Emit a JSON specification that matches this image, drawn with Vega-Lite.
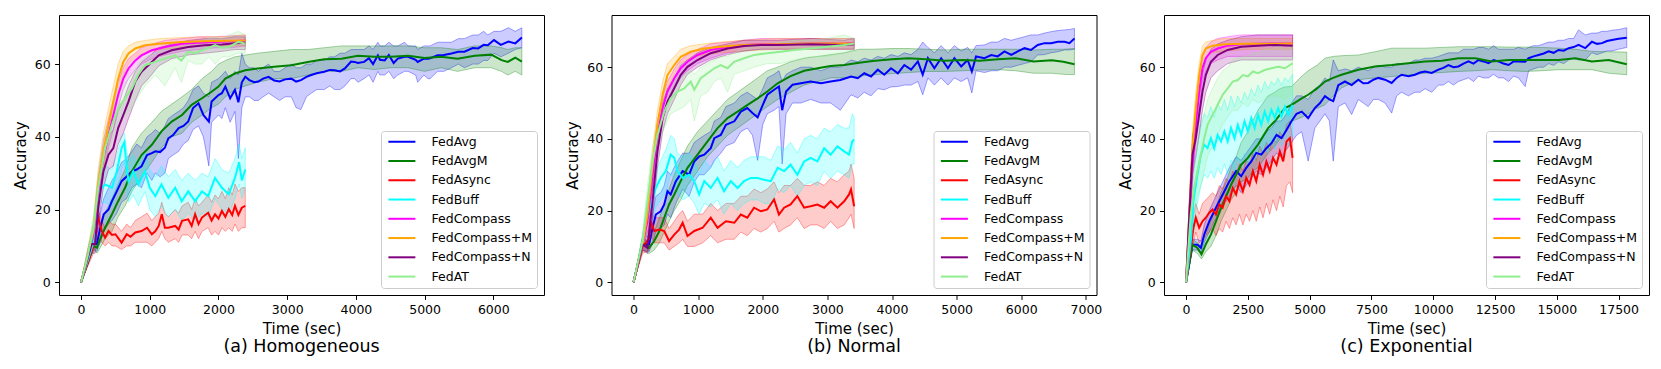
{
"$schema":"https://vega.github.io/schema/vega-lite/v6.json",
"background":"white",
"padding":{"left":12,"top":14,"right":5,"bottom":5},
"bounds":"flush",
"spacing":67.5,
"config":{
 "font":"DejaVu Sans",
 "view":{"stroke":"black","strokeWidth":1},
 "axis":{"labelFont":"DejaVu Sans","labelFontSize":12.5,"labelColor":"black","titleFont":"DejaVu Sans","titleFontSize":15,"titleFontWeight":"normal","titleColor":"black","tickColor":"black","tickSize":4.4,"tickWidth":1,"domain":false,"grid":false,"labelPadding":4.5},
 "axisX":{"titlePadding":5},
 "axisY":{"titlePadding":6},
 "legend":{"padding":4.5,"rowPadding":6.26,"symbolType":"M-1,0H7","symbolSize":45.6,"symbolStrokeWidth":2,"labelOffset":33.5,"labelFontSize":12.5,"labelFont":"DejaVu Sans","labelColor":"black","fillColor":"rgba(255,255,255,0.8)","strokeColor":"#cccccc","cornerRadius":3},
 "title":{"font":"DejaVu Sans","fontSize":17.5,"fontWeight":"normal","color":"black","orient":"bottom","offset":2}
},
"resolve":{"scale":{"color":"independent"},"legend":{"color":"independent"}},
"datasets":{
"a":[
{"s":"FedAvg","t":0,"y":0,"l":0,"h":0},{"s":"FedAvg","t":180,"y":10.5,"l":9,"h":12},{"s":"FedAvg","t":230,"y":10.5,"l":8.5,"h":14},{"s":"FedAvg","t":280,"y":15,"l":11,"h":19},{"s":"FedAvg","t":330,"y":18.7,"l":14,"h":23},{"s":"FedAvg","t":400,"y":20,"l":16,"h":26},{"s":"FedAvg","t":450,"y":22.3,"l":17,"h":28},{"s":"FedAvg","t":520,"y":25,"l":19,"h":30},{"s":"FedAvg","t":590,"y":27.8,"l":22,"h":33},{"s":"FedAvg","t":660,"y":29,"l":23,"h":34},{"s":"FedAvg","t":740,"y":30.5,"l":26,"h":36},{"s":"FedAvg","t":810,"y":31,"l":27,"h":38},{"s":"FedAvg","t":880,"y":31.9,"l":26,"h":37},{"s":"FedAvg","t":960,"y":35,"l":30,"h":40},{"s":"FedAvg","t":1030,"y":35.5,"l":28,"h":41},{"s":"FedAvg","t":1080,"y":36,"l":30,"h":42},{"s":"FedAvg","t":1150,"y":35.8,"l":29,"h":41},{"s":"FedAvg","t":1220,"y":37,"l":30,"h":43},{"s":"FedAvg","t":1270,"y":39.6,"l":34,"h":45},{"s":"FedAvg","t":1340,"y":40.5,"l":35,"h":46},{"s":"FedAvg","t":1420,"y":42.4,"l":36,"h":47},{"s":"FedAvg","t":1490,"y":43,"l":38,"h":48},{"s":"FedAvg","t":1560,"y":44.2,"l":39,"h":50},{"s":"FedAvg","t":1630,"y":47.9,"l":42,"h":53},{"s":"FedAvg","t":1710,"y":49.2,"l":43,"h":54},{"s":"FedAvg","t":1780,"y":46,"l":40,"h":52},{"s":"FedAvg","t":1860,"y":44.2,"l":32,"h":51},{"s":"FedAvg","t":1900,"y":49.7,"l":44,"h":55},{"s":"FedAvg","t":2000,"y":51.5,"l":46,"h":56},{"s":"FedAvg","t":2050,"y":52,"l":45,"h":57},{"s":"FedAvg","t":2100,"y":53.8,"l":48,"h":58},{"s":"FedAvg","t":2170,"y":50.6,"l":44,"h":56},{"s":"FedAvg","t":2240,"y":52.9,"l":47,"h":58},{"s":"FedAvg","t":2290,"y":49.5,"l":34,"h":57},{"s":"FedAvg","t":2340,"y":55,"l":48,"h":63},{"s":"FedAvg","t":2390,"y":56.5,"l":51,"h":60},{"s":"FedAvg","t":2450,"y":55.6,"l":51,"h":59},{"s":"FedAvg","t":2520,"y":55,"l":50,"h":59},{"s":"FedAvg","t":2580,"y":55.2,"l":50,"h":58},{"s":"FedAvg","t":2650,"y":56,"l":51,"h":59},{"s":"FedAvg","t":2730,"y":56.5,"l":52,"h":60},{"s":"FedAvg","t":2810,"y":55.5,"l":51,"h":58},{"s":"FedAvg","t":2890,"y":55.2,"l":50,"h":58},{"s":"FedAvg","t":2970,"y":55.8,"l":51,"h":59},{"s":"FedAvg","t":3060,"y":56,"l":51,"h":60},{"s":"FedAvg","t":3130,"y":55.2,"l":48,"h":59},{"s":"FedAvg","t":3200,"y":55.6,"l":47.5,"h":59},{"s":"FedAvg","t":3280,"y":56.5,"l":51,"h":60},{"s":"FedAvg","t":3350,"y":57,"l":52,"h":60},{"s":"FedAvg","t":3430,"y":57.5,"l":53,"h":61},{"s":"FedAvg","t":3540,"y":57.9,"l":53,"h":61},{"s":"FedAvg","t":3620,"y":58.4,"l":54,"h":62},{"s":"FedAvg","t":3690,"y":58.3,"l":53,"h":62},{"s":"FedAvg","t":3770,"y":58,"l":53,"h":63},{"s":"FedAvg","t":3840,"y":58.8,"l":54,"h":63},{"s":"FedAvg","t":3930,"y":60.7,"l":56,"h":64},{"s":"FedAvg","t":3980,"y":60.6,"l":56,"h":64},{"s":"FedAvg","t":4030,"y":60.3,"l":55,"h":64},{"s":"FedAvg","t":4120,"y":60.6,"l":56,"h":64},{"s":"FedAvg","t":4190,"y":61.6,"l":57,"h":65},{"s":"FedAvg","t":4250,"y":60,"l":55,"h":64},{"s":"FedAvg","t":4320,"y":62.4,"l":58,"h":66},{"s":"FedAvg","t":4350,"y":61.2,"l":57,"h":65},{"s":"FedAvg","t":4420,"y":61,"l":57,"h":65},{"s":"FedAvg","t":4480,"y":62.5,"l":58,"h":66},{"s":"FedAvg","t":4550,"y":60.3,"l":56,"h":65},{"s":"FedAvg","t":4610,"y":61.5,"l":57,"h":65},{"s":"FedAvg","t":4710,"y":62,"l":58,"h":66},{"s":"FedAvg","t":4760,"y":62,"l":58,"h":65},{"s":"FedAvg","t":4870,"y":61.2,"l":57,"h":65},{"s":"FedAvg","t":4900,"y":60.6,"l":55,"h":64},{"s":"FedAvg","t":4990,"y":61.5,"l":57,"h":65},{"s":"FedAvg","t":5050,"y":61.5,"l":56,"h":65},{"s":"FedAvg","t":5080,"y":61.6,"l":56,"h":65},{"s":"FedAvg","t":5190,"y":62.4,"l":58,"h":66},{"s":"FedAvg","t":5280,"y":62.5,"l":58,"h":66},{"s":"FedAvg","t":5390,"y":62.9,"l":59,"h":66},{"s":"FedAvg","t":5490,"y":63.4,"l":60,"h":67},{"s":"FedAvg","t":5580,"y":63.4,"l":59,"h":67},{"s":"FedAvg","t":5700,"y":64.4,"l":60,"h":68},{"s":"FedAvg","t":5780,"y":64.3,"l":60,"h":68},{"s":"FedAvg","t":5860,"y":65.3,"l":61,"h":69},{"s":"FedAvg","t":5920,"y":65.2,"l":61,"h":68},{"s":"FedAvg","t":6010,"y":66.6,"l":63,"h":69},{"s":"FedAvg","t":6110,"y":65.3,"l":62,"h":69},{"s":"FedAvg","t":6220,"y":66.2,"l":63,"h":70},{"s":"FedAvg","t":6320,"y":65.7,"l":64,"h":69},{"s":"FedAvg","t":6416,"y":67.3,"l":64.5,"h":70},
{"s":"FedAvgM","t":0,"y":0,"l":0,"h":0},{"s":"FedAvgM","t":180,"y":10,"l":9,"h":11},{"s":"FedAvgM","t":230,"y":9.5,"l":8,"h":12},{"s":"FedAvgM","t":280,"y":12,"l":9.5,"h":15},{"s":"FedAvgM","t":350,"y":15,"l":12,"h":19},{"s":"FedAvgM","t":450,"y":18.7,"l":14,"h":23},{"s":"FedAvgM","t":540,"y":22.3,"l":18,"h":27},{"s":"FedAvgM","t":640,"y":26,"l":21,"h":31},{"s":"FedAvgM","t":740,"y":30.5,"l":25,"h":37},{"s":"FedAvgM","t":880,"y":35,"l":29,"h":41},{"s":"FedAvgM","t":1030,"y":37.8,"l":33,"h":44},{"s":"FedAvgM","t":1170,"y":41.5,"l":37,"h":47},{"s":"FedAvgM","t":1320,"y":44.2,"l":40,"h":49},{"s":"FedAvgM","t":1470,"y":46,"l":41,"h":51},{"s":"FedAvgM","t":1610,"y":48.8,"l":44,"h":53},{"s":"FedAvgM","t":1760,"y":50.6,"l":46,"h":56},{"s":"FedAvgM","t":1900,"y":52.4,"l":48,"h":58},{"s":"FedAvgM","t":2000,"y":53.8,"l":49,"h":60},{"s":"FedAvgM","t":2100,"y":56,"l":51,"h":61},{"s":"FedAvgM","t":2240,"y":57.4,"l":53,"h":62},{"s":"FedAvgM","t":2390,"y":58.3,"l":54,"h":62.5},{"s":"FedAvgM","t":2570,"y":58.8,"l":55,"h":63},{"s":"FedAvgM","t":2810,"y":59.3,"l":56,"h":63.5},{"s":"FedAvgM","t":3060,"y":59.7,"l":56,"h":64},{"s":"FedAvgM","t":3300,"y":60.6,"l":57,"h":64},{"s":"FedAvgM","t":3540,"y":61.3,"l":58,"h":64.5},{"s":"FedAvgM","t":3790,"y":61.5,"l":58,"h":65},{"s":"FedAvgM","t":4030,"y":62.3,"l":59,"h":65},{"s":"FedAvgM","t":4270,"y":62,"l":58.5,"h":65},{"s":"FedAvgM","t":4510,"y":62,"l":59,"h":65},{"s":"FedAvgM","t":4760,"y":62.3,"l":59,"h":65},{"s":"FedAvgM","t":5000,"y":61.7,"l":58,"h":64.5},{"s":"FedAvgM","t":5240,"y":62,"l":59,"h":64.5},{"s":"FedAvgM","t":5480,"y":61.5,"l":58,"h":64},{"s":"FedAvgM","t":5730,"y":62.3,"l":59,"h":65},{"s":"FedAvgM","t":5970,"y":62.6,"l":59,"h":65},{"s":"FedAvgM","t":6120,"y":61.1,"l":58,"h":64.5},{"s":"FedAvgM","t":6210,"y":60.6,"l":57,"h":64},{"s":"FedAvgM","t":6320,"y":61.8,"l":58,"h":64.5},{"s":"FedAvgM","t":6416,"y":60.7,"l":57,"h":64.5},
{"s":"FedAsync","t":0,"y":0,"l":0,"h":0},{"s":"FedAsync","t":180,"y":10,"l":8,"h":12},{"s":"FedAsync","t":230,"y":16.4,"l":13,"h":19},{"s":"FedAsync","t":250,"y":17.8,"l":15,"h":20},{"s":"FedAsync","t":300,"y":14.1,"l":11,"h":17},{"s":"FedAsync","t":350,"y":12.3,"l":10,"h":15},{"s":"FedAsync","t":400,"y":14.1,"l":11,"h":17},{"s":"FedAsync","t":450,"y":13,"l":10,"h":16},{"s":"FedAsync","t":500,"y":13.2,"l":10,"h":16},{"s":"FedAsync","t":590,"y":10.9,"l":9,"h":14},{"s":"FedAsync","t":665,"y":13.2,"l":10,"h":16},{"s":"FedAsync","t":720,"y":12.5,"l":10,"h":15},{"s":"FedAsync","t":790,"y":13.7,"l":11,"h":17},{"s":"FedAsync","t":880,"y":14.1,"l":11,"h":18},{"s":"FedAsync","t":960,"y":15,"l":11,"h":19},{"s":"FedAsync","t":1030,"y":13.2,"l":10,"h":17},{"s":"FedAsync","t":1080,"y":14,"l":11,"h":18},{"s":"FedAsync","t":1130,"y":15.5,"l":12,"h":19},{"s":"FedAsync","t":1175,"y":18.7,"l":14,"h":22},{"s":"FedAsync","t":1220,"y":15,"l":12,"h":19},{"s":"FedAsync","t":1270,"y":15,"l":11,"h":18},{"s":"FedAsync","t":1370,"y":15.5,"l":12,"h":20},{"s":"FedAsync","t":1420,"y":14.5,"l":11,"h":19},{"s":"FedAsync","t":1470,"y":16.9,"l":13,"h":21},{"s":"FedAsync","t":1560,"y":17.3,"l":13,"h":22},{"s":"FedAsync","t":1610,"y":15.5,"l":12,"h":20},{"s":"FedAsync","t":1660,"y":18.7,"l":14,"h":23},{"s":"FedAsync","t":1710,"y":16,"l":12,"h":21},{"s":"FedAsync","t":1760,"y":17.8,"l":14,"h":22},{"s":"FedAsync","t":1850,"y":19.1,"l":15,"h":24},{"s":"FedAsync","t":1900,"y":17,"l":13,"h":22},{"s":"FedAsync","t":1950,"y":18.7,"l":14,"h":24},{"s":"FedAsync","t":2000,"y":17.5,"l":13,"h":23},{"s":"FedAsync","t":2050,"y":19.6,"l":15,"h":25},{"s":"FedAsync","t":2100,"y":18,"l":14,"h":23},{"s":"FedAsync","t":2150,"y":20.1,"l":15,"h":26},{"s":"FedAsync","t":2200,"y":18.5,"l":14,"h":24},{"s":"FedAsync","t":2240,"y":21,"l":16,"h":27},{"s":"FedAsync","t":2290,"y":18.5,"l":14,"h":25},{"s":"FedAsync","t":2340,"y":20.5,"l":15,"h":26},{"s":"FedAsync","t":2390,"y":21,"l":15,"h":26},
{"s":"FedBuff","t":0,"y":0,"l":0,"h":0},{"s":"FedBuff","t":180,"y":11,"l":9,"h":13},{"s":"FedBuff","t":230,"y":20,"l":16,"h":24},{"s":"FedBuff","t":280,"y":25.5,"l":22,"h":30},{"s":"FedBuff","t":350,"y":26.9,"l":22,"h":32},{"s":"FedBuff","t":450,"y":26,"l":21,"h":31},{"s":"FedBuff","t":520,"y":30.5,"l":25,"h":35},{"s":"FedBuff","t":590,"y":36.9,"l":31,"h":40},{"s":"FedBuff","t":630,"y":38.5,"l":33,"h":41},{"s":"FedBuff","t":660,"y":32.4,"l":27,"h":37},{"s":"FedBuff","t":690,"y":27.8,"l":22,"h":33},{"s":"FedBuff","t":760,"y":30.5,"l":24,"h":35},{"s":"FedBuff","t":835,"y":26.9,"l":21,"h":32},{"s":"FedBuff","t":930,"y":30.5,"l":25,"h":36},{"s":"FedBuff","t":1000,"y":26,"l":20,"h":31},{"s":"FedBuff","t":1080,"y":23.7,"l":18,"h":29},{"s":"FedBuff","t":1170,"y":26.9,"l":21,"h":32},{"s":"FedBuff","t":1270,"y":23.2,"l":18,"h":29},{"s":"FedBuff","t":1370,"y":26,"l":20,"h":31},{"s":"FedBuff","t":1465,"y":22.3,"l":17,"h":28},{"s":"FedBuff","t":1560,"y":25,"l":19,"h":30},{"s":"FedBuff","t":1660,"y":22.3,"l":17,"h":28},{"s":"FedBuff","t":1760,"y":25,"l":19,"h":30},{"s":"FedBuff","t":1850,"y":23.7,"l":18,"h":29},{"s":"FedBuff","t":1950,"y":28.7,"l":23,"h":34},{"s":"FedBuff","t":2050,"y":26,"l":20,"h":31},{"s":"FedBuff","t":2150,"y":24.2,"l":19,"h":30},{"s":"FedBuff","t":2240,"y":28.7,"l":23,"h":34},{"s":"FedBuff","t":2300,"y":33,"l":27,"h":38},{"s":"FedBuff","t":2340,"y":28,"l":23,"h":34},{"s":"FedBuff","t":2390,"y":31,"l":26,"h":37},
{"s":"FedCompass","t":0,"y":0,"l":0,"h":0},{"s":"FedCompass","t":100,"y":7,"l":5,"h":9},{"s":"FedCompass","t":180,"y":13.2,"l":11,"h":16},{"s":"FedCompass","t":250,"y":25,"l":21,"h":29},{"s":"FedCompass","t":325,"y":34.2,"l":30,"h":39},{"s":"FedCompass","t":400,"y":40.6,"l":37,"h":45},{"s":"FedCompass","t":470,"y":46,"l":42,"h":50},{"s":"FedCompass","t":540,"y":51.5,"l":48,"h":55},{"s":"FedCompass","t":615,"y":56,"l":53,"h":59},{"s":"FedCompass","t":690,"y":58.8,"l":56,"h":61.5},{"s":"FedCompass","t":790,"y":61,"l":58.5,"h":63},{"s":"FedCompass","t":880,"y":62.4,"l":60,"h":64.5},{"s":"FedCompass","t":1030,"y":63.8,"l":61.5,"h":65.5},{"s":"FedCompass","t":1220,"y":64.7,"l":62.5,"h":66.5},{"s":"FedCompass","t":1460,"y":65.6,"l":63.5,"h":67},{"s":"FedCompass","t":1710,"y":65.9,"l":64,"h":67.5},{"s":"FedCompass","t":1950,"y":66.1,"l":64.5,"h":67.5},{"s":"FedCompass","t":2190,"y":66.3,"l":64.5,"h":67.8},{"s":"FedCompass","t":2390,"y":66.5,"l":65,"h":68},
{"s":"FedCompass+M","t":0,"y":0,"l":0,"h":0},{"s":"FedCompass+M","t":100,"y":7.5,"l":5.5,"h":9.5},{"s":"FedCompass+M","t":180,"y":14,"l":12,"h":17},{"s":"FedCompass+M","t":250,"y":26.9,"l":23,"h":31},{"s":"FedCompass+M","t":325,"y":36,"l":31,"h":41},{"s":"FedCompass+M","t":400,"y":43.3,"l":39,"h":48},{"s":"FedCompass+M","t":470,"y":49.7,"l":45,"h":54},{"s":"FedCompass+M","t":540,"y":56,"l":52,"h":60},{"s":"FedCompass+M","t":615,"y":60.6,"l":57,"h":63.5},{"s":"FedCompass+M","t":690,"y":62.9,"l":60,"h":65},{"s":"FedCompass+M","t":790,"y":64.3,"l":62,"h":66},{"s":"FedCompass+M","t":930,"y":65.2,"l":63,"h":66.5},{"s":"FedCompass+M","t":1130,"y":65.6,"l":64,"h":67},{"s":"FedCompass+M","t":1460,"y":66.1,"l":64.5,"h":67.3},{"s":"FedCompass+M","t":1800,"y":66.3,"l":65,"h":67.5},{"s":"FedCompass+M","t":2150,"y":66.4,"l":65,"h":67.6},{"s":"FedCompass+M","t":2390,"y":66.5,"l":65,"h":68},
{"s":"FedCompass+N","t":0,"y":0,"l":0,"h":0},{"s":"FedCompass+N","t":100,"y":7,"l":5,"h":9},{"s":"FedCompass+N","t":155,"y":10.5,"l":8,"h":13},{"s":"FedCompass+N","t":205,"y":10.5,"l":8,"h":14},{"s":"FedCompass+N","t":250,"y":20.5,"l":16,"h":25},{"s":"FedCompass+N","t":325,"y":30.5,"l":26,"h":35},{"s":"FedCompass+N","t":400,"y":35.1,"l":31,"h":40},{"s":"FedCompass+N","t":470,"y":36.9,"l":32,"h":42},{"s":"FedCompass+N","t":540,"y":42.4,"l":38,"h":47},{"s":"FedCompass+N","t":615,"y":46,"l":41,"h":50},{"s":"FedCompass+N","t":690,"y":49.7,"l":45,"h":54},{"s":"FedCompass+N","t":790,"y":55.2,"l":50,"h":58},{"s":"FedCompass+N","t":880,"y":57.9,"l":54,"h":60.5},{"s":"FedCompass+N","t":980,"y":59.7,"l":56,"h":62},{"s":"FedCompass+N","t":1130,"y":62.4,"l":59.5,"h":64.5},{"s":"FedCompass+N","t":1320,"y":63.8,"l":61.5,"h":65.5},{"s":"FedCompass+N","t":1560,"y":64.7,"l":62.5,"h":66.5},{"s":"FedCompass+N","t":1800,"y":65.2,"l":63,"h":67},{"s":"FedCompass+N","t":2050,"y":65.4,"l":63.5,"h":67},{"s":"FedCompass+N","t":2240,"y":65.7,"l":64,"h":67.5},{"s":"FedCompass+N","t":2390,"y":65.9,"l":64,"h":67.5},
{"s":"FedAT","t":0,"y":0,"l":0,"h":0},{"s":"FedAT","t":100,"y":7.5,"l":5.5,"h":9.5},{"s":"FedAT","t":180,"y":15,"l":12,"h":18},{"s":"FedAT","t":250,"y":26,"l":22,"h":30},{"s":"FedAT","t":350,"y":36.9,"l":32,"h":41},{"s":"FedAT","t":450,"y":43.3,"l":39,"h":47},{"s":"FedAT","t":540,"y":47.9,"l":44,"h":52},{"s":"FedAT","t":640,"y":50.6,"l":46,"h":55},{"s":"FedAT","t":740,"y":53.3,"l":48,"h":57},{"s":"FedAT","t":830,"y":57,"l":51,"h":60},{"s":"FedAT","t":930,"y":59.7,"l":54,"h":62},{"s":"FedAT","t":1080,"y":60.6,"l":57,"h":63},{"s":"FedAT","t":1220,"y":61.5,"l":54,"h":64},{"s":"FedAT","t":1370,"y":62.4,"l":59,"h":65},{"s":"FedAT","t":1460,"y":61,"l":55,"h":64},{"s":"FedAT","t":1560,"y":63.4,"l":61,"h":66},{"s":"FedAT","t":1660,"y":63,"l":60,"h":66},{"s":"FedAT","t":1760,"y":63.8,"l":60,"h":66.5},{"s":"FedAT","t":1860,"y":64.5,"l":62,"h":67},{"s":"FedAT","t":1950,"y":65.2,"l":60,"h":67.5},{"s":"FedAT","t":2050,"y":64.5,"l":62,"h":67},{"s":"FedAT","t":2150,"y":64.7,"l":62,"h":68},{"s":"FedAT","t":2290,"y":66.1,"l":63,"h":69},{"s":"FedAT","t":2390,"y":65.6,"l":63,"h":68}
],
"b":[
{"s":"FedAvg","t":0,"y":0,"l":0,"h":0},{"s":"FedAvg","t":140,"y":10.6,"l":9,"h":12.5},{"s":"FedAvg","t":240,"y":10.6,"l":8.5,"h":13},{"s":"FedAvg","t":295,"y":15.2,"l":11,"h":19},{"s":"FedAvg","t":345,"y":18.9,"l":14,"h":24},{"s":"FedAvg","t":420,"y":19.8,"l":15,"h":25},{"s":"FedAvg","t":475,"y":21.7,"l":16,"h":27},{"s":"FedAvg","t":525,"y":25.4,"l":19,"h":31},{"s":"FedAvg","t":575,"y":24.5,"l":18,"h":30},{"s":"FedAvg","t":655,"y":28.2,"l":22,"h":33},{"s":"FedAvg","t":760,"y":31,"l":26,"h":36},{"s":"FedAvg","t":860,"y":30,"l":24,"h":36},{"s":"FedAvg","t":940,"y":33.7,"l":28,"h":39},{"s":"FedAvg","t":1015,"y":35.1,"l":30,"h":40},{"s":"FedAvg","t":1095,"y":35.6,"l":30,"h":41},{"s":"FedAvg","t":1195,"y":37.4,"l":32,"h":42},{"s":"FedAvg","t":1250,"y":40.2,"l":34,"h":45},{"s":"FedAvg","t":1350,"y":41.1,"l":36,"h":46},{"s":"FedAvg","t":1430,"y":43.9,"l":38,"h":49},{"s":"FedAvg","t":1560,"y":44.9,"l":39,"h":50},{"s":"FedAvg","t":1660,"y":47.6,"l":42,"h":52},{"s":"FedAvg","t":1760,"y":48.6,"l":43,"h":53},{"s":"FedAvg","t":1840,"y":47.2,"l":41,"h":52},{"s":"FedAvg","t":1920,"y":46,"l":34,"h":51},{"s":"FedAvg","t":2000,"y":49.5,"l":44,"h":54},{"s":"FedAvg","t":2070,"y":52.3,"l":47,"h":57},{"s":"FedAvg","t":2175,"y":53.7,"l":48,"h":58},{"s":"FedAvg","t":2250,"y":54.6,"l":49,"h":59},{"s":"FedAvg","t":2300,"y":48,"l":33,"h":56},{"s":"FedAvg","t":2360,"y":53.2,"l":47,"h":58},{"s":"FedAvg","t":2460,"y":55.1,"l":50,"h":59},{"s":"FedAvg","t":2590,"y":55.5,"l":50,"h":60},{"s":"FedAvg","t":2740,"y":56,"l":51,"h":60},{"s":"FedAvg","t":2900,"y":55.5,"l":50,"h":59},{"s":"FedAvg","t":3050,"y":56,"l":50,"h":60},{"s":"FedAvg","t":3200,"y":56.4,"l":48,"h":60},{"s":"FedAvg","t":3366,"y":57.4,"l":52.3,"h":62},{"s":"FedAvg","t":3470,"y":56.9,"l":51.4,"h":61.5},{"s":"FedAvg","t":3570,"y":58.3,"l":53,"h":62.5},{"s":"FedAvg","t":3675,"y":57.4,"l":52,"h":62},{"s":"FedAvg","t":3780,"y":59.3,"l":54,"h":63},{"s":"FedAvg","t":3880,"y":57.9,"l":53.7,"h":62.5},{"s":"FedAvg","t":3985,"y":59.7,"l":54.5,"h":63.5},{"s":"FedAvg","t":4090,"y":58.3,"l":54.6,"h":63},{"s":"FedAvg","t":4190,"y":60.6,"l":55,"h":64},{"s":"FedAvg","t":4295,"y":59.3,"l":55,"h":63.5},{"s":"FedAvg","t":4400,"y":61.6,"l":56,"h":65},{"s":"FedAvg","t":4475,"y":57.9,"l":52.3,"h":67},{"s":"FedAvg","t":4555,"y":62.5,"l":57,"h":65.5},{"s":"FedAvg","t":4655,"y":59.7,"l":55,"h":64},{"s":"FedAvg","t":4760,"y":62.5,"l":57,"h":66},{"s":"FedAvg","t":4865,"y":59.7,"l":55,"h":64},{"s":"FedAvg","t":4965,"y":62.5,"l":57,"h":66},{"s":"FedAvg","t":5070,"y":60.2,"l":56,"h":64.5},{"s":"FedAvg","t":5170,"y":62,"l":57,"h":65.5},{"s":"FedAvg","t":5235,"y":58.8,"l":52.8,"h":64},{"s":"FedAvg","t":5300,"y":63,"l":59,"h":66},{"s":"FedAvg","t":5430,"y":62.5,"l":58.5,"h":66.2},{"s":"FedAvg","t":5535,"y":63.4,"l":59,"h":67},{"s":"FedAvg","t":5635,"y":63,"l":59,"h":67},{"s":"FedAvg","t":5740,"y":64.4,"l":60,"h":68},{"s":"FedAvg","t":5845,"y":63.4,"l":60,"h":67.5},{"s":"FedAvg","t":5945,"y":64.4,"l":60.5,"h":68},{"s":"FedAvg","t":6050,"y":65.3,"l":61,"h":68.5},{"s":"FedAvg","t":6150,"y":64.8,"l":61.5,"h":69},{"s":"FedAvg","t":6255,"y":66.2,"l":63.4,"h":69},{"s":"FedAvg","t":6360,"y":66.7,"l":63.5,"h":69.5},{"s":"FedAvg","t":6460,"y":66.7,"l":64,"h":69.9},{"s":"FedAvg","t":6565,"y":67.1,"l":64.3,"h":70.2},{"s":"FedAvg","t":6670,"y":67.1,"l":64.8,"h":70.4},{"s":"FedAvg","t":6745,"y":66.7,"l":64.8,"h":70.5},{"s":"FedAvg","t":6823,"y":68,"l":65,"h":70.8},
{"s":"FedAvgM","t":0,"y":0,"l":0,"h":0},{"s":"FedAvgM","t":140,"y":10.6,"l":9,"h":12},{"s":"FedAvgM","t":240,"y":9.6,"l":8,"h":11.5},{"s":"FedAvgM","t":320,"y":11.5,"l":9,"h":14},{"s":"FedAvgM","t":400,"y":14.3,"l":11,"h":18},{"s":"FedAvgM","t":475,"y":18,"l":14,"h":22},{"s":"FedAvgM","t":550,"y":21.7,"l":17,"h":26},{"s":"FedAvgM","t":630,"y":24.5,"l":20,"h":30},{"s":"FedAvgM","t":730,"y":28.2,"l":23,"h":34},{"s":"FedAvgM","t":835,"y":31.9,"l":27,"h":38},{"s":"FedAvgM","t":990,"y":35.6,"l":31,"h":42},{"s":"FedAvgM","t":1145,"y":39.3,"l":35,"h":45},{"s":"FedAvgM","t":1300,"y":43,"l":38,"h":48},{"s":"FedAvgM","t":1455,"y":45.8,"l":41,"h":51},{"s":"FedAvgM","t":1610,"y":47.6,"l":43,"h":53},{"s":"FedAvgM","t":1765,"y":49.5,"l":45,"h":55},{"s":"FedAvgM","t":1920,"y":51.3,"l":47,"h":57},{"s":"FedAvgM","t":2070,"y":53.2,"l":49,"h":59},{"s":"FedAvgM","t":2230,"y":55.5,"l":51,"h":60},{"s":"FedAvgM","t":2430,"y":57.5,"l":53,"h":61.5},{"s":"FedAvgM","t":2640,"y":59,"l":55,"h":62.5},{"s":"FedAvgM","t":2850,"y":59.7,"l":56,"h":63},{"s":"FedAvgM","t":3050,"y":60.3,"l":57,"h":63.5},{"s":"FedAvgM","t":3260,"y":60.6,"l":57,"h":64},{"s":"FedAvgM","t":3490,"y":61.2,"l":57.5,"h":65},{"s":"FedAvgM","t":3700,"y":61.7,"l":57.9,"h":65},{"s":"FedAvgM","t":4000,"y":62.2,"l":58.2,"h":65.2},{"s":"FedAvgM","t":4250,"y":62.5,"l":58.5,"h":65.2},{"s":"FedAvgM","t":4530,"y":62.2,"l":58.8,"h":65},{"s":"FedAvgM","t":4810,"y":61.8,"l":58.8,"h":64.8},{"s":"FedAvgM","t":5100,"y":62,"l":59,"h":65},{"s":"FedAvgM","t":5360,"y":61.8,"l":59.2,"h":65},{"s":"FedAvgM","t":5640,"y":62.2,"l":59.3,"h":65},{"s":"FedAvgM","t":5910,"y":62.5,"l":59,"h":65},{"s":"FedAvgM","t":6190,"y":61.6,"l":58.3,"h":64.8},{"s":"FedAvgM","t":6470,"y":61.9,"l":58.3,"h":65},{"s":"FedAvgM","t":6650,"y":61.5,"l":58,"h":65},{"s":"FedAvgM","t":6823,"y":60.8,"l":57.9,"h":65.2},
{"s":"FedAsync","t":0,"y":0,"l":0,"h":0},{"s":"FedAsync","t":140,"y":10,"l":8,"h":12},{"s":"FedAsync","t":240,"y":12,"l":9,"h":15},{"s":"FedAsync","t":270,"y":17,"l":13,"h":20},{"s":"FedAsync","t":320,"y":14.3,"l":11,"h":18},{"s":"FedAsync","t":400,"y":14.7,"l":11,"h":18},{"s":"FedAsync","t":475,"y":14.3,"l":11,"h":18},{"s":"FedAsync","t":550,"y":11.5,"l":9,"h":15},{"s":"FedAsync","t":630,"y":13.3,"l":10,"h":17},{"s":"FedAsync","t":705,"y":14.7,"l":11,"h":19},{"s":"FedAsync","t":760,"y":16.6,"l":12,"h":20},{"s":"FedAsync","t":835,"y":12.9,"l":10,"h":17},{"s":"FedAsync","t":940,"y":14.3,"l":10,"h":19},{"s":"FedAsync","t":1070,"y":15.2,"l":11,"h":19},{"s":"FedAsync","t":1195,"y":18,"l":13,"h":22},{"s":"FedAsync","t":1300,"y":15.2,"l":11,"h":20},{"s":"FedAsync","t":1430,"y":17,"l":12,"h":22},{"s":"FedAsync","t":1560,"y":16.6,"l":12,"h":22},{"s":"FedAsync","t":1660,"y":18.9,"l":14,"h":24},{"s":"FedAsync","t":1760,"y":18,"l":13,"h":24},{"s":"FedAsync","t":1865,"y":20.8,"l":15,"h":26},{"s":"FedAsync","t":1970,"y":19.8,"l":14,"h":25},{"s":"FedAsync","t":2070,"y":20.3,"l":15,"h":26},{"s":"FedAsync","t":2175,"y":23.1,"l":17,"h":28},{"s":"FedAsync","t":2250,"y":18.9,"l":14,"h":25},{"s":"FedAsync","t":2330,"y":20.8,"l":15,"h":27},{"s":"FedAsync","t":2430,"y":21.7,"l":16,"h":27},{"s":"FedAsync","t":2535,"y":24,"l":18,"h":29},{"s":"FedAsync","t":2640,"y":20.8,"l":15,"h":27},{"s":"FedAsync","t":2740,"y":21.2,"l":16,"h":27},{"s":"FedAsync","t":2845,"y":21.7,"l":16,"h":28},{"s":"FedAsync","t":2950,"y":20.8,"l":15,"h":27},{"s":"FedAsync","t":3050,"y":22.6,"l":17,"h":29},{"s":"FedAsync","t":3155,"y":20.8,"l":15,"h":28},{"s":"FedAsync","t":3260,"y":22.6,"l":16,"h":30},{"s":"FedAsync","t":3335,"y":24.5,"l":18,"h":31},{"s":"FedAsync","t":3365,"y":25.9,"l":19,"h":33},{"s":"FedAsync","t":3414,"y":21.2,"l":15,"h":29},
{"s":"FedBuff","t":0,"y":0,"l":0,"h":0},{"s":"FedBuff","t":140,"y":11,"l":9,"h":13},{"s":"FedBuff","t":240,"y":20,"l":15,"h":25},{"s":"FedBuff","t":345,"y":26.3,"l":21,"h":31},{"s":"FedBuff","t":420,"y":29.1,"l":23,"h":34},{"s":"FedBuff","t":500,"y":31,"l":25,"h":37},{"s":"FedBuff","t":575,"y":35.6,"l":30,"h":41},{"s":"FedBuff","t":630,"y":34.7,"l":29,"h":40},{"s":"FedBuff","t":680,"y":31,"l":25,"h":36},{"s":"FedBuff","t":760,"y":29.1,"l":23,"h":35},{"s":"FedBuff","t":860,"y":30,"l":24,"h":36},{"s":"FedBuff","t":940,"y":28.2,"l":22,"h":34},{"s":"FedBuff","t":1015,"y":24.5,"l":19,"h":30},{"s":"FedBuff","t":1095,"y":28.2,"l":22,"h":34},{"s":"FedBuff","t":1195,"y":26.3,"l":21,"h":32},{"s":"FedBuff","t":1300,"y":29.1,"l":23,"h":35},{"s":"FedBuff","t":1400,"y":25.4,"l":19,"h":31},{"s":"FedBuff","t":1505,"y":28.2,"l":22,"h":34},{"s":"FedBuff","t":1610,"y":26.3,"l":20,"h":32},{"s":"FedBuff","t":1710,"y":28.2,"l":22,"h":34},{"s":"FedBuff","t":1815,"y":29.1,"l":23,"h":35},{"s":"FedBuff","t":1920,"y":29.1,"l":23,"h":35},{"s":"FedBuff","t":2020,"y":28.6,"l":22,"h":35},{"s":"FedBuff","t":2125,"y":28.2,"l":22,"h":34},{"s":"FedBuff","t":2230,"y":31.9,"l":26,"h":38},{"s":"FedBuff","t":2330,"y":31,"l":25,"h":37},{"s":"FedBuff","t":2430,"y":32.8,"l":27,"h":39},{"s":"FedBuff","t":2535,"y":30,"l":24,"h":36},{"s":"FedBuff","t":2640,"y":33.7,"l":27,"h":40},{"s":"FedBuff","t":2740,"y":34.7,"l":28,"h":41},{"s":"FedBuff","t":2845,"y":33.7,"l":27,"h":40},{"s":"FedBuff","t":2950,"y":37.4,"l":31,"h":43},{"s":"FedBuff","t":3050,"y":35.6,"l":29,"h":42},{"s":"FedBuff","t":3155,"y":37.9,"l":31,"h":44},{"s":"FedBuff","t":3260,"y":36.5,"l":30,"h":43},{"s":"FedBuff","t":3335,"y":35.6,"l":29,"h":43},{"s":"FedBuff","t":3385,"y":39.3,"l":33,"h":47},{"s":"FedBuff","t":3414,"y":39.8,"l":33,"h":46},
{"s":"FedCompass","t":0,"y":0,"l":0,"h":0},{"s":"FedCompass","t":140,"y":10.6,"l":9,"h":12.5},{"s":"FedCompass","t":215,"y":17,"l":14,"h":21},{"s":"FedCompass","t":295,"y":30,"l":26,"h":34},{"s":"FedCompass","t":370,"y":41.1,"l":37,"h":45},{"s":"FedCompass","t":450,"y":48.6,"l":45,"h":52},{"s":"FedCompass","t":525,"y":53.2,"l":50,"h":56},{"s":"FedCompass","t":630,"y":56.9,"l":54,"h":59.5},{"s":"FedCompass","t":730,"y":59.7,"l":57,"h":62},{"s":"FedCompass","t":835,"y":61.5,"l":59,"h":63.5},{"s":"FedCompass","t":990,"y":63.4,"l":61,"h":65},{"s":"FedCompass","t":1195,"y":64.8,"l":62.5,"h":66.5},{"s":"FedCompass","t":1455,"y":65.7,"l":64,"h":67},{"s":"FedCompass","t":1710,"y":66.2,"l":64.5,"h":67.5},{"s":"FedCompass","t":1970,"y":66.4,"l":65,"h":68},{"s":"FedCompass","t":2230,"y":66.4,"l":65,"h":68},{"s":"FedCompass","t":2740,"y":66.6,"l":65,"h":68},{"s":"FedCompass","t":3260,"y":66.6,"l":65,"h":68},{"s":"FedCompass","t":3414,"y":66.8,"l":65,"h":68},
{"s":"FedCompass+M","t":0,"y":0,"l":0,"h":0},{"s":"FedCompass+M","t":140,"y":10.6,"l":9,"h":12.5},{"s":"FedCompass+M","t":215,"y":18.9,"l":15,"h":23},{"s":"FedCompass+M","t":295,"y":32.8,"l":28,"h":37},{"s":"FedCompass+M","t":370,"y":43.9,"l":39,"h":48},{"s":"FedCompass+M","t":450,"y":52.3,"l":48,"h":56},{"s":"FedCompass+M","t":525,"y":57.8,"l":54,"h":61},{"s":"FedCompass+M","t":630,"y":60.6,"l":58,"h":63},{"s":"FedCompass+M","t":730,"y":62.9,"l":61,"h":65},{"s":"FedCompass+M","t":885,"y":64.3,"l":62.5,"h":66},{"s":"FedCompass+M","t":1095,"y":65.2,"l":63.5,"h":66.5},{"s":"FedCompass+M","t":1350,"y":65.7,"l":64,"h":67},{"s":"FedCompass+M","t":1710,"y":66.2,"l":64.5,"h":67.5},{"s":"FedCompass+M","t":2230,"y":66.4,"l":65,"h":68},{"s":"FedCompass+M","t":2740,"y":66.6,"l":65,"h":68},{"s":"FedCompass+M","t":3414,"y":66.6,"l":65,"h":68},
{"s":"FedCompass+N","t":0,"y":0,"l":0,"h":0},{"s":"FedCompass+N","t":140,"y":10.6,"l":9,"h":12.5},{"s":"FedCompass+N","t":215,"y":9.6,"l":8,"h":11.5},{"s":"FedCompass+N","t":295,"y":22.6,"l":18,"h":27},{"s":"FedCompass+N","t":370,"y":36.5,"l":32,"h":41},{"s":"FedCompass+N","t":450,"y":45.8,"l":42,"h":50},{"s":"FedCompass+N","t":525,"y":50.4,"l":47,"h":54},{"s":"FedCompass+N","t":630,"y":54.1,"l":51,"h":57},{"s":"FedCompass+N","t":730,"y":57.8,"l":55,"h":60.5},{"s":"FedCompass+N","t":835,"y":60.1,"l":58,"h":62},{"s":"FedCompass+N","t":990,"y":62,"l":60,"h":64},{"s":"FedCompass+N","t":1195,"y":63.9,"l":62,"h":65.5},{"s":"FedCompass+N","t":1455,"y":65.2,"l":63.5,"h":66.5},{"s":"FedCompass+N","t":1710,"y":65.9,"l":64.5,"h":67.5},{"s":"FedCompass+N","t":1970,"y":66.2,"l":65,"h":67.5},{"s":"FedCompass+N","t":2230,"y":66.2,"l":65,"h":67.5},{"s":"FedCompass+N","t":2740,"y":66.4,"l":65,"h":68},{"s":"FedCompass+N","t":3260,"y":66.2,"l":65,"h":67.5},{"s":"FedCompass+N","t":3414,"y":66.4,"l":65,"h":68},
{"s":"FedAT","t":0,"y":0,"l":0,"h":0},{"s":"FedAT","t":140,"y":11.5,"l":9,"h":14},{"s":"FedAT","t":215,"y":22.6,"l":18,"h":27},{"s":"FedAT","t":295,"y":33.7,"l":29,"h":38},{"s":"FedAT","t":370,"y":41.1,"l":37,"h":45},{"s":"FedAT","t":475,"y":47.6,"l":43,"h":51},{"s":"FedAT","t":575,"y":51.3,"l":47,"h":55},{"s":"FedAT","t":680,"y":53.2,"l":48,"h":57},{"s":"FedAT","t":785,"y":54.1,"l":49,"h":58},{"s":"FedAT","t":885,"y":56,"l":51,"h":59},{"s":"FedAT","t":940,"y":53.7,"l":45,"h":58},{"s":"FedAT","t":1040,"y":56.9,"l":52,"h":60},{"s":"FedAT","t":1145,"y":58.3,"l":53,"h":61},{"s":"FedAT","t":1250,"y":59.7,"l":56,"h":62},{"s":"FedAT","t":1350,"y":60.6,"l":57,"h":63},{"s":"FedAT","t":1455,"y":59.7,"l":53,"h":63},{"s":"FedAT","t":1555,"y":61.5,"l":58,"h":64},{"s":"FedAT","t":1710,"y":62.5,"l":59,"h":65},{"s":"FedAT","t":1865,"y":63.4,"l":60,"h":66},{"s":"FedAT","t":2070,"y":63.9,"l":61,"h":66.5},{"s":"FedAT","t":2280,"y":64.3,"l":61,"h":67},{"s":"FedAT","t":2485,"y":64.8,"l":62,"h":67.5},{"s":"FedAT","t":2740,"y":65.2,"l":63,"h":67.5},{"s":"FedAT","t":3000,"y":65.7,"l":63,"h":68},{"s":"FedAT","t":3260,"y":66.2,"l":64,"h":69},{"s":"FedAT","t":3414,"y":66.6,"l":65,"h":68}
],
"c":[
{"s":"FedAvg","t":0,"y":0,"l":0,"h":0},{"s":"FedAvg","t":260,"y":10.5,"l":9,"h":12},{"s":"FedAvg","t":460,"y":10.5,"l":9,"h":12},{"s":"FedAvg","t":600,"y":9.6,"l":8,"h":11.5},{"s":"FedAvg","t":735,"y":13.3,"l":11,"h":16},{"s":"FedAvg","t":940,"y":17,"l":14,"h":20},{"s":"FedAvg","t":1140,"y":19.8,"l":17,"h":23},{"s":"FedAvg","t":1345,"y":22.6,"l":19,"h":26},{"s":"FedAvg","t":1550,"y":25.4,"l":22,"h":29},{"s":"FedAvg","t":1755,"y":28.2,"l":24,"h":32},{"s":"FedAvg","t":2025,"y":31,"l":27,"h":35},{"s":"FedAvg","t":2230,"y":29.6,"l":25,"h":34},{"s":"FedAvg","t":2435,"y":31.9,"l":27,"h":36},{"s":"FedAvg","t":2640,"y":33.7,"l":29,"h":38},{"s":"FedAvg","t":2840,"y":36.1,"l":31,"h":40},{"s":"FedAvg","t":3045,"y":35.6,"l":30,"h":40},{"s":"FedAvg","t":3250,"y":37.4,"l":32,"h":42},{"s":"FedAvg","t":3455,"y":38.8,"l":34,"h":43},{"s":"FedAvg","t":3660,"y":41.1,"l":36,"h":45},{"s":"FedAvg","t":3860,"y":40.2,"l":35,"h":45},{"s":"FedAvg","t":4065,"y":42.5,"l":37,"h":47},{"s":"FedAvg","t":4270,"y":45,"l":39,"h":50},{"s":"FedAvg","t":4470,"y":47,"l":41,"h":52},{"s":"FedAvg","t":4680,"y":47.6,"l":42,"h":52},{"s":"FedAvg","t":4940,"y":45.8,"l":33.8,"h":51},{"s":"FedAvg","t":5210,"y":48.6,"l":43,"h":54},{"s":"FedAvg","t":5420,"y":50,"l":45,"h":55},{"s":"FedAvg","t":5620,"y":51.9,"l":47,"h":57},{"s":"FedAvg","t":5800,"y":51,"l":45,"h":56},{"s":"FedAvg","t":5955,"y":50.5,"l":33.8,"h":62},{"s":"FedAvg","t":6160,"y":55,"l":49,"h":59},{"s":"FedAvg","t":6430,"y":56,"l":50,"h":59.5},{"s":"FedAvg","t":6700,"y":55,"l":46.8,"h":59},{"s":"FedAvg","t":6970,"y":56.5,"l":51,"h":60},{"s":"FedAvg","t":7170,"y":55.5,"l":50,"h":59.5},{"s":"FedAvg","t":7370,"y":55.6,"l":49,"h":59},{"s":"FedAvg","t":7580,"y":56.5,"l":51,"h":60},{"s":"FedAvg","t":7780,"y":57,"l":51,"h":60.5},{"s":"FedAvg","t":8050,"y":56.5,"l":50,"h":60},{"s":"FedAvg","t":8320,"y":55.6,"l":47.2,"h":60},{"s":"FedAvg","t":8520,"y":57,"l":52,"h":61},{"s":"FedAvg","t":8720,"y":57.9,"l":53,"h":61},{"s":"FedAvg","t":9000,"y":57.5,"l":52,"h":61},{"s":"FedAvg","t":9260,"y":57.9,"l":53,"h":62},{"s":"FedAvg","t":9470,"y":58.5,"l":53,"h":62},{"s":"FedAvg","t":9670,"y":58.8,"l":54,"h":62.5},{"s":"FedAvg","t":9940,"y":58.4,"l":53,"h":62.5},{"s":"FedAvg","t":10210,"y":59.3,"l":55,"h":63},{"s":"FedAvg","t":10410,"y":59.8,"l":55,"h":63.5},{"s":"FedAvg","t":10615,"y":60.6,"l":56,"h":64},{"s":"FedAvg","t":10820,"y":60,"l":55,"h":64},{"s":"FedAvg","t":11020,"y":60.2,"l":56,"h":64},{"s":"FedAvg","t":11225,"y":61,"l":56.5,"h":65},{"s":"FedAvg","t":11425,"y":61.6,"l":57,"h":65},{"s":"FedAvg","t":11630,"y":61,"l":56,"h":65},{"s":"FedAvg","t":11830,"y":62,"l":57.5,"h":65.5},{"s":"FedAvg","t":12030,"y":61.6,"l":57,"h":65.5},{"s":"FedAvg","t":12240,"y":61.1,"l":57,"h":65},{"s":"FedAvg","t":12440,"y":62,"l":58,"h":66},{"s":"FedAvg","t":12640,"y":61.6,"l":57,"h":65},{"s":"FedAvg","t":12840,"y":61,"l":57,"h":65},{"s":"FedAvg","t":13050,"y":60.6,"l":56,"h":65},{"s":"FedAvg","t":13250,"y":61.6,"l":57.5,"h":65},{"s":"FedAvg","t":13450,"y":61.6,"l":57,"h":65.5},{"s":"FedAvg","t":13720,"y":61.5,"l":54.6,"h":65},{"s":"FedAvg","t":13860,"y":62.5,"l":59,"h":65.5},{"s":"FedAvg","t":14060,"y":63,"l":59.5,"h":66},{"s":"FedAvg","t":14260,"y":63.4,"l":60,"h":66},{"s":"FedAvg","t":14470,"y":63.8,"l":60,"h":66.5},{"s":"FedAvg","t":14670,"y":64.4,"l":61,"h":67},{"s":"FedAvg","t":14870,"y":64,"l":60.5,"h":67},{"s":"FedAvg","t":15070,"y":64.8,"l":61.5,"h":67.5},{"s":"FedAvg","t":15280,"y":64.6,"l":61,"h":67.5},{"s":"FedAvg","t":15480,"y":65.3,"l":62,"h":68},{"s":"FedAvg","t":15680,"y":65.6,"l":62.5,"h":68},{"s":"FedAvg","t":15880,"y":66.2,"l":62,"h":70.4},{"s":"FedAvg","t":16150,"y":65.3,"l":62,"h":69},{"s":"FedAvg","t":16420,"y":67.1,"l":64,"h":69.5},{"s":"FedAvg","t":16630,"y":66.5,"l":63.5,"h":69.5},{"s":"FedAvg","t":16830,"y":66.7,"l":64,"h":70},{"s":"FedAvg","t":17030,"y":67.3,"l":64.5,"h":70},{"s":"FedAvg","t":17230,"y":67.6,"l":64.5,"h":70.3},{"s":"FedAvg","t":17500,"y":67.9,"l":65,"h":70.5},{"s":"FedAvg","t":17830,"y":68.2,"l":65.5,"h":71},
{"s":"FedAvgM","t":0,"y":0,"l":0,"h":0},{"s":"FedAvgM","t":260,"y":10.5,"l":9,"h":12},{"s":"FedAvgM","t":460,"y":9.6,"l":8,"h":11},{"s":"FedAvgM","t":625,"y":7.8,"l":6.5,"h":10},{"s":"FedAvgM","t":800,"y":10.6,"l":8.5,"h":13},{"s":"FedAvgM","t":1005,"y":13.3,"l":10,"h":17},{"s":"FedAvgM","t":1210,"y":17,"l":13,"h":21},{"s":"FedAvgM","t":1415,"y":20.8,"l":17,"h":25},{"s":"FedAvgM","t":1620,"y":24,"l":20,"h":28},{"s":"FedAvgM","t":1820,"y":27.2,"l":23,"h":32},{"s":"FedAvgM","t":2025,"y":30,"l":25,"h":35},{"s":"FedAvgM","t":2230,"y":32.8,"l":28,"h":39},{"s":"FedAvgM","t":2500,"y":34.7,"l":29,"h":42},{"s":"FedAvgM","t":2700,"y":36.5,"l":31,"h":45},{"s":"FedAvgM","t":2910,"y":38.4,"l":32,"h":48},{"s":"FedAvgM","t":3115,"y":40.7,"l":34,"h":50},{"s":"FedAvgM","t":3320,"y":43,"l":36,"h":52},{"s":"FedAvgM","t":3590,"y":44.9,"l":38,"h":53},{"s":"FedAvgM","t":3795,"y":46.7,"l":40,"h":54},{"s":"FedAvgM","t":4000,"y":48.6,"l":42,"h":54.5},{"s":"FedAvgM","t":4270,"y":49.5,"l":44.9,"h":54.6},{"s":"FedAvgM","t":4680,"y":51.3,"l":46,"h":57.5},{"s":"FedAvgM","t":4940,"y":52.3,"l":47,"h":59},{"s":"FedAvgM","t":5290,"y":54,"l":48.5,"h":60.5},{"s":"FedAvgM","t":5620,"y":56,"l":49.5,"h":62.5},{"s":"FedAvgM","t":5950,"y":57,"l":52,"h":63},{"s":"FedAvgM","t":6290,"y":57.9,"l":54.2,"h":63.2},{"s":"FedAvgM","t":6970,"y":59.3,"l":56.5,"h":63.4},{"s":"FedAvgM","t":7640,"y":60.2,"l":57,"h":64.3},{"s":"FedAvgM","t":8320,"y":60.6,"l":57.4,"h":65.3},{"s":"FedAvgM","t":8990,"y":61.1,"l":57.8,"h":65.3},{"s":"FedAvgM","t":9670,"y":61.6,"l":58.3,"h":65.3},{"s":"FedAvgM","t":10350,"y":61.8,"l":58.5,"h":65.5},{"s":"FedAvgM","t":11020,"y":62.5,"l":58.8,"h":65.7},{"s":"FedAvgM","t":11700,"y":62.5,"l":59,"h":65.7},{"s":"FedAvgM","t":12370,"y":61.6,"l":59.3,"h":65.7},{"s":"FedAvgM","t":13050,"y":62,"l":59,"h":65.6},{"s":"FedAvgM","t":13720,"y":62,"l":58.8,"h":65.6},{"s":"FedAvgM","t":14400,"y":62,"l":59,"h":65.5},{"s":"FedAvgM","t":15070,"y":62,"l":59.3,"h":65.3},{"s":"FedAvgM","t":15750,"y":62.5,"l":59.3,"h":65},{"s":"FedAvgM","t":16420,"y":61.6,"l":59.3,"h":64.4},{"s":"FedAvgM","t":17100,"y":62,"l":58.3,"h":64.3},{"s":"FedAvgM","t":17830,"y":60.8,"l":57.9,"h":64.2},
{"s":"FedAsync","t":0,"y":0,"l":0,"h":0},{"s":"FedAsync","t":200,"y":10,"l":8,"h":13},{"s":"FedAsync","t":300,"y":15.2,"l":11,"h":19},{"s":"FedAsync","t":395,"y":18,"l":14,"h":22},{"s":"FedAsync","t":530,"y":15.2,"l":11,"h":19},{"s":"FedAsync","t":665,"y":17,"l":12,"h":22},{"s":"FedAsync","t":800,"y":18,"l":13,"h":23},{"s":"FedAsync","t":940,"y":19.4,"l":14,"h":24},{"s":"FedAsync","t":1075,"y":20.3,"l":15,"h":25},{"s":"FedAsync","t":1210,"y":18.9,"l":13,"h":24},{"s":"FedAsync","t":1345,"y":21.7,"l":15,"h":27},{"s":"FedAsync","t":1480,"y":20.8,"l":14,"h":26},{"s":"FedAsync","t":1620,"y":24,"l":17,"h":29},{"s":"FedAsync","t":1755,"y":22.6,"l":15,"h":28},{"s":"FedAsync","t":1890,"y":26.3,"l":18,"h":31},{"s":"FedAsync","t":2025,"y":24.5,"l":16,"h":30},{"s":"FedAsync","t":2160,"y":28.2,"l":19,"h":33},{"s":"FedAsync","t":2300,"y":25.4,"l":16,"h":31},{"s":"FedAsync","t":2435,"y":29.1,"l":19,"h":34},{"s":"FedAsync","t":2570,"y":27.2,"l":17,"h":33},{"s":"FedAsync","t":2705,"y":31,"l":20,"h":36},{"s":"FedAsync","t":2840,"y":28.2,"l":17,"h":34},{"s":"FedAsync","t":2980,"y":32.8,"l":21,"h":38},{"s":"FedAsync","t":3115,"y":30,"l":18,"h":36},{"s":"FedAsync","t":3250,"y":33.7,"l":22,"h":39},{"s":"FedAsync","t":3385,"y":31,"l":19,"h":37},{"s":"FedAsync","t":3520,"y":34.7,"l":23,"h":40},{"s":"FedAsync","t":3660,"y":32.8,"l":20,"h":39},{"s":"FedAsync","t":3795,"y":36.5,"l":24,"h":42},{"s":"FedAsync","t":3930,"y":33.7,"l":21,"h":40},{"s":"FedAsync","t":4065,"y":39.3,"l":27,"h":44},{"s":"FedAsync","t":4200,"y":40.2,"l":28,"h":45},{"s":"FedAsync","t":4311,"y":34.7,"l":25,"h":40},
{"s":"FedBuff","t":0,"y":0,"l":0,"h":0},{"s":"FedBuff","t":200,"y":12,"l":9,"h":16},{"s":"FedBuff","t":300,"y":22.6,"l":16,"h":30},{"s":"FedBuff","t":460,"y":30,"l":22,"h":38},{"s":"FedBuff","t":600,"y":35.6,"l":27,"h":44},{"s":"FedBuff","t":735,"y":38.4,"l":30,"h":47},{"s":"FedBuff","t":870,"y":37.4,"l":29,"h":46},{"s":"FedBuff","t":1005,"y":40.2,"l":31,"h":49},{"s":"FedBuff","t":1140,"y":37.4,"l":29,"h":46},{"s":"FedBuff","t":1280,"y":41.1,"l":32,"h":50},{"s":"FedBuff","t":1415,"y":39.3,"l":30,"h":48},{"s":"FedBuff","t":1550,"y":42.1,"l":33,"h":51},{"s":"FedBuff","t":1685,"y":39.3,"l":30,"h":48},{"s":"FedBuff","t":1820,"y":43,"l":34,"h":52},{"s":"FedBuff","t":1960,"y":40.2,"l":31,"h":49},{"s":"FedBuff","t":2095,"y":43.9,"l":35,"h":52},{"s":"FedBuff","t":2230,"y":41.1,"l":32,"h":50},{"s":"FedBuff","t":2365,"y":44.9,"l":36,"h":53},{"s":"FedBuff","t":2500,"y":42.1,"l":33,"h":51},{"s":"FedBuff","t":2640,"y":45.8,"l":37,"h":54},{"s":"FedBuff","t":2775,"y":43,"l":34,"h":52},{"s":"FedBuff","t":2910,"y":46.7,"l":38,"h":55},{"s":"FedBuff","t":3045,"y":43.9,"l":35,"h":53},{"s":"FedBuff","t":3180,"y":47.6,"l":39,"h":56},{"s":"FedBuff","t":3320,"y":44.9,"l":36,"h":54},{"s":"FedBuff","t":3455,"y":48.1,"l":40,"h":56},{"s":"FedBuff","t":3590,"y":45.8,"l":37,"h":55},{"s":"FedBuff","t":3725,"y":48.6,"l":40,"h":57},{"s":"FedBuff","t":3860,"y":46.2,"l":38,"h":55},{"s":"FedBuff","t":4000,"y":49,"l":41,"h":57},{"s":"FedBuff","t":4135,"y":46.7,"l":38,"h":56},{"s":"FedBuff","t":4311,"y":49.5,"l":41,"h":58},
{"s":"FedCompass","t":0,"y":0,"l":0,"h":0},{"s":"FedCompass","t":120,"y":15.2,"l":11,"h":19},{"s":"FedCompass","t":260,"y":32.8,"l":28,"h":38},{"s":"FedCompass","t":395,"y":43.9,"l":39,"h":49},{"s":"FedCompass","t":530,"y":53.2,"l":49,"h":57},{"s":"FedCompass","t":665,"y":59.7,"l":56,"h":63},{"s":"FedCompass","t":800,"y":62.5,"l":59,"h":65.5},{"s":"FedCompass","t":1005,"y":64.3,"l":61,"h":67},{"s":"FedCompass","t":1280,"y":65.2,"l":62,"h":68},{"s":"FedCompass","t":1685,"y":66,"l":63,"h":68.5},{"s":"FedCompass","t":2230,"y":66.4,"l":63,"h":69},{"s":"FedCompass","t":2910,"y":66.5,"l":63,"h":69},{"s":"FedCompass","t":3590,"y":66.6,"l":63,"h":69},{"s":"FedCompass","t":4311,"y":66.6,"l":63,"h":69},
{"s":"FedCompass+M","t":0,"y":0,"l":0,"h":0},{"s":"FedCompass+M","t":120,"y":17,"l":13,"h":21},{"s":"FedCompass+M","t":260,"y":37.4,"l":32,"h":42},{"s":"FedCompass+M","t":395,"y":48.6,"l":44,"h":53},{"s":"FedCompass+M","t":530,"y":57.8,"l":54,"h":61},{"s":"FedCompass+M","t":665,"y":63.4,"l":60,"h":66},{"s":"FedCompass+M","t":800,"y":65.2,"l":63,"h":67},{"s":"FedCompass+M","t":1075,"y":66,"l":64,"h":67.5},{"s":"FedCompass+M","t":1550,"y":66.4,"l":64.5,"h":68},{"s":"FedCompass+M","t":2500,"y":66.5,"l":65,"h":68},{"s":"FedCompass+M","t":4311,"y":66.6,"l":65,"h":68},
{"s":"FedCompass+N","t":0,"y":0,"l":0,"h":0},{"s":"FedCompass+N","t":120,"y":17,"l":13,"h":21},{"s":"FedCompass+N","t":260,"y":35.6,"l":30,"h":41},{"s":"FedCompass+N","t":395,"y":40.2,"l":35,"h":45},{"s":"FedCompass+N","t":530,"y":46.7,"l":41,"h":52},{"s":"FedCompass+N","t":665,"y":53.2,"l":48,"h":58},{"s":"FedCompass+N","t":800,"y":57.8,"l":53,"h":62},{"s":"FedCompass+N","t":1005,"y":61.5,"l":57,"h":65},{"s":"FedCompass+N","t":1280,"y":63.4,"l":59,"h":66.5},{"s":"FedCompass+N","t":1685,"y":64.8,"l":61,"h":67.5},{"s":"FedCompass+N","t":2230,"y":65.7,"l":62,"h":68.5},{"s":"FedCompass+N","t":2910,"y":66,"l":62,"h":69},{"s":"FedCompass+N","t":3590,"y":66.2,"l":62,"h":69},{"s":"FedCompass+N","t":4311,"y":66,"l":62,"h":69},
{"s":"FedAT","t":0,"y":0,"l":0,"h":0},{"s":"FedAT","t":190,"y":18.9,"l":14,"h":23},{"s":"FedAT","t":325,"y":26.3,"l":20,"h":32},{"s":"FedAT","t":460,"y":31,"l":24,"h":38},{"s":"FedAT","t":600,"y":35.6,"l":27,"h":43},{"s":"FedAT","t":735,"y":40.2,"l":31,"h":47},{"s":"FedAT","t":870,"y":43.9,"l":35,"h":51},{"s":"FedAT","t":1005,"y":45.8,"l":37,"h":53},{"s":"FedAT","t":1140,"y":47.6,"l":39,"h":55},{"s":"FedAT","t":1280,"y":49.5,"l":41,"h":57},{"s":"FedAT","t":1480,"y":52.3,"l":44,"h":59},{"s":"FedAT","t":1685,"y":54.1,"l":46,"h":60},{"s":"FedAT","t":1890,"y":56,"l":48,"h":62},{"s":"FedAT","t":2095,"y":56.4,"l":48,"h":62.5},{"s":"FedAT","t":2300,"y":57.8,"l":50,"h":63},{"s":"FedAT","t":2500,"y":57.4,"l":49,"h":63},{"s":"FedAT","t":2705,"y":58.8,"l":51,"h":64},{"s":"FedAT","t":2910,"y":58.3,"l":50,"h":64},{"s":"FedAT","t":3180,"y":59.2,"l":51,"h":65},{"s":"FedAT","t":3455,"y":59.7,"l":52,"h":65},{"s":"FedAT","t":3725,"y":60.1,"l":52,"h":66},{"s":"FedAT","t":4000,"y":59.7,"l":51,"h":65},{"s":"FedAT","t":4311,"y":61.1,"l":53,"h":66}
]
},
"hconcat":[
{"width":485,"height":280,"data":{"name":"a"},"title":{"text":"(a) Homogeneous"},
 "layer":[
  {"mark":{"type":"area","fillOpacity":0.2,"strokeOpacity":0.35,"strokeWidth":1},
   "encoding":{"x":{"field":"t","type":"quantitative","scale":{"domain":[-321,6738],"nice":false,"zero":false},"axis":{"values":[0,1000,2000,3000,4000,5000,6000],"format":"d","title":"Time (sec)"}},
    "y":{"field":"l","type":"quantitative","scale":{"domain":[-3.5,73.5],"nice":false,"zero":false},"axis":{"values":[0,10,20,30,40,50,60,70],"title":"Accuracy"}},
    "y2":{"field":"h"},
    "fill":{"field":"s","type":"nominal","scale":{"domain":["FedAvg","FedAvgM","FedAsync","FedBuff","FedCompass","FedCompass+M","FedCompass+N","FedAT"],"range":["#0000ff","#008000","#ff0000","#00ffff","#ff00ff","#ffa500","#800080","#90ee90"]},"legend":null},
    "stroke":{"field":"s","type":"nominal","scale":{"domain":["FedAvg","FedAvgM","FedAsync","FedBuff","FedCompass","FedCompass+M","FedCompass+N","FedAT"],"range":["#0000ff","#008000","#ff0000","#00ffff","#ff00ff","#ffa500","#800080","#90ee90"]},"legend":null}}},
  {"mark":{"type":"line","strokeWidth":2},
   "encoding":{"x":{"field":"t","type":"quantitative"},"y":{"field":"y","type":"quantitative"},
    "color":{"field":"s","type":"nominal","scale":{"domain":["FedAvg","FedAvgM","FedAsync","FedBuff","FedCompass","FedCompass+M","FedCompass+N","FedAT"],"range":["#0000ff","#008000","#ff0000","#00ffff","#ff00ff","#ffa500","#800080","#90ee90"]},"legend":{"title":null,"orient":"bottom-right","offset":7}}}}
 ]},
{"width":485,"height":280,"data":{"name":"b"},"title":{"text":"(b) Normal"},
 "layer":[
  {"mark":{"type":"area","fillOpacity":0.2,"strokeOpacity":0.35,"strokeWidth":1},
   "encoding":{"x":{"field":"t","type":"quantitative","scale":{"domain":[-341,7164],"nice":false,"zero":false},"axis":{"values":[0,1000,2000,3000,4000,5000,6000,7000],"format":"d","title":"Time (sec)"}},
    "y":{"field":"l","type":"quantitative","scale":{"domain":[-3.55,74.55],"nice":false,"zero":false},"axis":{"values":[0,10,20,30,40,50,60,70],"title":"Accuracy"}},
    "y2":{"field":"h"},
    "fill":{"field":"s","type":"nominal","scale":{"domain":["FedAvg","FedAvgM","FedAsync","FedBuff","FedCompass","FedCompass+M","FedCompass+N","FedAT"],"range":["#0000ff","#008000","#ff0000","#00ffff","#ff00ff","#ffa500","#800080","#90ee90"]},"legend":null},
    "stroke":{"field":"s","type":"nominal","scale":{"domain":["FedAvg","FedAvgM","FedAsync","FedBuff","FedCompass","FedCompass+M","FedCompass+N","FedAT"],"range":["#0000ff","#008000","#ff0000","#00ffff","#ff00ff","#ffa500","#800080","#90ee90"]},"legend":null}}},
  {"mark":{"type":"line","strokeWidth":2},
   "encoding":{"x":{"field":"t","type":"quantitative"},"y":{"field":"y","type":"quantitative"},
    "color":{"field":"s","type":"nominal","scale":{"domain":["FedAvg","FedAvgM","FedAsync","FedBuff","FedCompass","FedCompass+M","FedCompass+N","FedAT"],"range":["#0000ff","#008000","#ff0000","#00ffff","#ff00ff","#ffa500","#800080","#90ee90"]},"legend":{"title":null,"orient":"bottom-right","offset":7}}}}
 ]},
{"width":485,"height":280,"data":{"name":"c"},"title":{"text":"(c) Exponential"},
 "layer":[
  {"mark":{"type":"area","fillOpacity":0.2,"strokeOpacity":0.35,"strokeWidth":1},
   "encoding":{"x":{"field":"t","type":"quantitative","scale":{"domain":[-892,18730],"nice":false,"zero":false},"axis":{"values":[0,2500,5000,7500,10000,12500,15000,17500],"format":"d","title":"Time (sec)"}},
    "y":{"field":"l","type":"quantitative","scale":{"domain":[-3.55,74.55],"nice":false,"zero":false},"axis":{"values":[0,10,20,30,40,50,60,70],"title":"Accuracy"}},
    "y2":{"field":"h"},
    "fill":{"field":"s","type":"nominal","scale":{"domain":["FedAvg","FedAvgM","FedAsync","FedBuff","FedCompass","FedCompass+M","FedCompass+N","FedAT"],"range":["#0000ff","#008000","#ff0000","#00ffff","#ff00ff","#ffa500","#800080","#90ee90"]},"legend":null},
    "stroke":{"field":"s","type":"nominal","scale":{"domain":["FedAvg","FedAvgM","FedAsync","FedBuff","FedCompass","FedCompass+M","FedCompass+N","FedAT"],"range":["#0000ff","#008000","#ff0000","#00ffff","#ff00ff","#ffa500","#800080","#90ee90"]},"legend":null}}},
  {"mark":{"type":"line","strokeWidth":2},
   "encoding":{"x":{"field":"t","type":"quantitative"},"y":{"field":"y","type":"quantitative"},
    "color":{"field":"s","type":"nominal","scale":{"domain":["FedAvg","FedAvgM","FedAsync","FedBuff","FedCompass","FedCompass+M","FedCompass+N","FedAT"],"range":["#0000ff","#008000","#ff0000","#00ffff","#ff00ff","#ffa500","#800080","#90ee90"]},"legend":{"title":null,"orient":"bottom-right","offset":7}}}}
 ]}
]
}
